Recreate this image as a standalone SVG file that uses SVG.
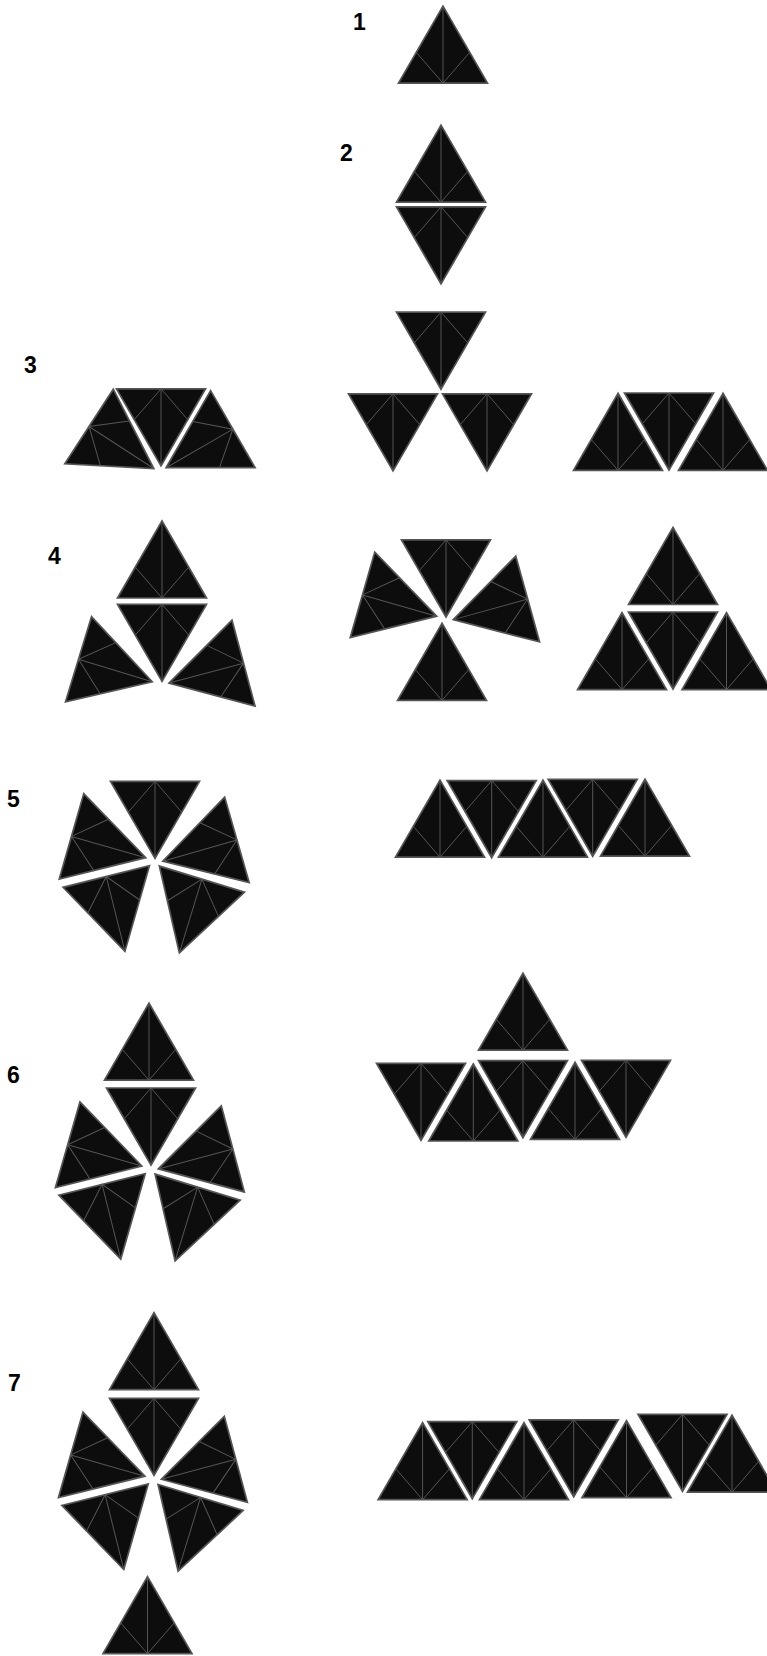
<svg xmlns="http://www.w3.org/2000/svg" xmlns:xlink="http://www.w3.org/1999/xlink" width="767" height="1656" viewBox="0 0 767 1656">
<style>
.t{fill:#0d0d0d;stroke:#555;stroke-width:1.7;stroke-linejoin:miter}
.l{fill:none;stroke:#555;stroke-width:1}
.lab{font-family:"Liberation Sans",Arial,sans-serif;font-weight:bold;font-size:23px;fill:#000}
</style>
<defs>
<g id="tile">
<polygon class="t" points="0,-51.4 -44.5,25.7 44.5,25.7"/>
<path class="l" d="M0,-51.4 L0,25.7 M-26.7,-5.1 L0,25.7 L26.7,-5.1"/>
</g>
</defs>
<rect width="767" height="1656" fill="#fff"/>
<g id="connectors"/>
<g id="fig1">
<text class="lab" x="353" y="30">1</text>
<use href="#tile" transform="translate(443,57.5)"/>
</g>
<g id="fig2">
<text class="lab" x="340" y="161">2</text>
<use href="#tile" transform="translate(441,176.5)"/>
<use href="#tile" transform="translate(441,232.5) rotate(180)"/>
</g>
<g id="fig3">
<text class="lab" x="24" y="373">3</text>
<g id="fig3a">
<use href="#tile" transform="translate(110.6,440.5) rotate(123)"/>
<use href="#tile" transform="translate(161,414.5) rotate(180)"/>
<use href="#tile" transform="translate(210.6,442) rotate(-120)"/>
</g>
<g id="fig3b">
<use href="#tile" transform="translate(441,337.8) rotate(180)"/>
<use href="#tile" transform="translate(393,419.5) rotate(180)"/>
<use href="#tile" transform="translate(487,419.5) rotate(180)"/>
</g>
<g id="fig3c">
<use href="#tile" transform="translate(618,444.7)"/>
<use href="#tile" transform="translate(669,418.7) rotate(180)"/>
<use href="#tile" transform="translate(723,444.7)"/>
</g>
</g>
<g id="fig4">
<text class="lab" x="48" y="564">4</text>
<g id="fig4a">
<use href="#tile" transform="translate(162,572.3)"/>
<use href="#tile" transform="translate(162,630) rotate(180)"/>
<use href="#tile" transform="translate(103.1,666.7) rotate(107)"/>
<use href="#tile" transform="translate(218.7,669.8) rotate(-105)"/>
</g>
<g id="fig4b">
<use href="#tile" transform="translate(446,565.6) rotate(180)"/>
<use href="#tile" transform="translate(442,674.7)"/>
<use href="#tile" transform="translate(387.2,602) rotate(106)"/>
<use href="#tile" transform="translate(502.9,605.9) rotate(-105.5)"/>
</g>
<g id="fig4c">
<use href="#tile" transform="translate(673,578.8)"/>
<use href="#tile" transform="translate(673,637.7) rotate(180)"/>
<use href="#tile" transform="translate(622,664)"/>
<use href="#tile" transform="translate(726.5,664)"/>
</g>
</g>
<g id="fig5">
<text class="lab" x="7" y="807">5</text>
<g id="fig5a">
<use href="#tile" transform="translate(155,807) rotate(180)"/>
<use href="#tile" transform="translate(96.2,843.5) rotate(106)"/>
<use href="#tile" transform="translate(212.2,847) rotate(-106)"/>
<use href="#tile" transform="translate(112.5,901.5) rotate(166)"/>
<use href="#tile" transform="translate(194.4,903.7) rotate(-163)"/>
</g>
<g id="fig5b">
<use href="#tile" transform="translate(440,831.5)"/>
<use href="#tile" transform="translate(491.7,806.3) rotate(180)"/>
<use href="#tile" transform="translate(543,831.5)"/>
<use href="#tile" transform="translate(592.7,805) rotate(180)"/>
<use href="#tile" transform="translate(645,830.5)"/>
</g>
</g>
<g id="fig6">
<text class="lab" x="7" y="1083">6</text>
<g id="fig6a">
<use href="#tile" transform="translate(149,1054.5)"/>
<use href="#tile" transform="translate(151,1113.7) rotate(180)"/>
<use href="#tile" transform="translate(92.4,1151.8) rotate(106)"/>
<use href="#tile" transform="translate(208,1155.6) rotate(-105)"/>
<use href="#tile" transform="translate(108.3,1209.3) rotate(166)"/>
<use href="#tile" transform="translate(190.1,1211.7) rotate(-163)"/>
</g>
<g id="fig6b">
<use href="#tile" transform="translate(523,1024.5)"/>
<use href="#tile" transform="translate(421,1089) rotate(180)"/>
<use href="#tile" transform="translate(473.3,1115.3)"/>
<use href="#tile" transform="translate(523,1086.3) rotate(180)"/>
<use href="#tile" transform="translate(575,1113.7)"/>
<use href="#tile" transform="translate(626,1086) rotate(180)"/>
</g>
</g>
<g id="fig7">
<text class="lab" x="8" y="1391">7</text>
<g id="fig7a">
<use href="#tile" transform="translate(154,1364)"/>
<use href="#tile" transform="translate(154,1424) rotate(180)"/>
<use href="#tile" transform="translate(95.4,1462) rotate(106)"/>
<use href="#tile" transform="translate(211,1466) rotate(-105)"/>
<use href="#tile" transform="translate(111.3,1519.6) rotate(166)"/>
<use href="#tile" transform="translate(193.1,1522) rotate(-163)"/>
<use href="#tile" transform="translate(147.5,1628)"/>
</g>
<g id="fig7b">
<use href="#tile" transform="translate(422.6,1474)"/>
<use href="#tile" transform="translate(472.3,1447.3) rotate(180)"/>
<use href="#tile" transform="translate(524,1474)"/>
<use href="#tile" transform="translate(573.7,1445.5) rotate(180)"/>
<use href="#tile" transform="translate(626.5,1472)"/>
<use href="#tile" transform="translate(682.5,1440) rotate(180)"/>
<use href="#tile" transform="translate(732,1466.5)"/>
</g>
</g>
</svg>
